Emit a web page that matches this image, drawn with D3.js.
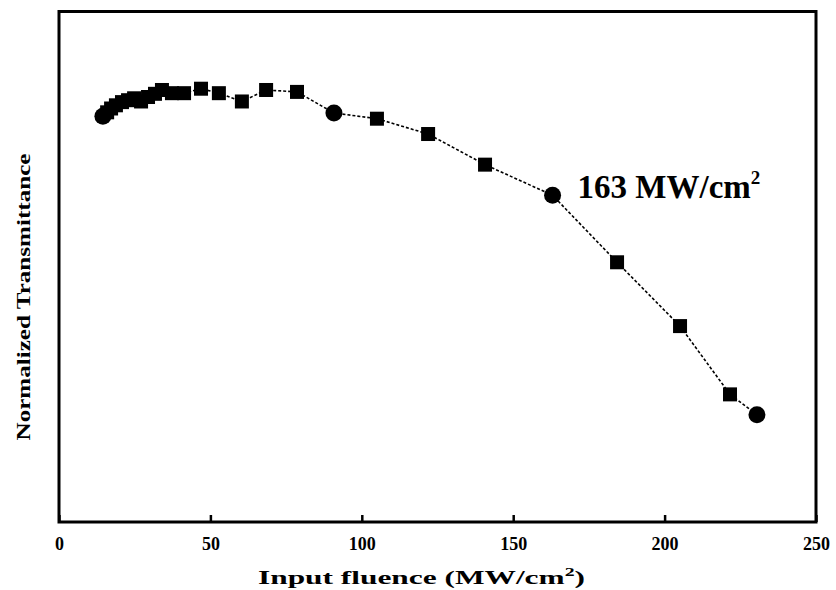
<!DOCTYPE html>
<html>
<head>
<meta charset="utf-8">
<script src="https://cdn.jsdelivr.net/npm/d3@7"></script>
<style>
  body { margin: 0; background: #fff; }
  text { font-family: "Liberation Serif", "Times New Roman", serif; font-weight: bold; fill: #000; }
</style>
</head>
<body>
<div id="chart"></div>
<script>
// input fluence (MW/cm^2)
var fluence = [14.5, 15.9, 17.2, 18.8, 20.8, 22.8, 24.8, 27.1, 29.4, 31.7, 34.0, 37.3, 41.3, 46.9,
               52.8, 60.4, 68.4, 78.6, 90.8, 105.0, 121.9, 140.7, 163.0, 184.3, 205.1, 221.6, 230.5];
// normalized transmittance
var transmittance = [0.936, 0.942, 0.948, 0.953, 0.958, 0.961, 0.964, 0.959, 0.966, 0.971, 0.977, 0.972, 0.972, 0.979,
                     0.972, 0.959, 0.977, 0.974, 0.941, 0.932, 0.908, 0.860, 0.812, 0.707, 0.607, 0.500, 0.468];
// points drawn as circles (the rest are squares)
var circlePoints = [0, 18, 22, 26];
var xTicks = [0, 50, 100, 150, 200, 250];

var svgWidth = 836;
var svgHeight = 590;

var margin = {
    top: 11.5,
    right: 20,
    bottom: 68,
    left: 59
};

var width = svgWidth - margin.left - margin.right;
var height = svgHeight - margin.top - margin.bottom;

var svg = d3.select("#chart")
    .append("svg")
    .attr("width", svgWidth)
    .attr("height", svgHeight);

var chartGroup = svg.append("g")
    .attr("transform", `translate(${margin.left}, ${margin.top})`);

var data = fluence.map(function(f, i) {
    return { x: f, y: transmittance[i], circle: circlePoints.indexOf(i) >= 0 };
});

var xLinearScale = d3.scaleLinear()
    .domain([0, 250])
    .range([0, width]);

var yLinearScale = d3.scaleLinear()
    .domain([0.3, 1.1])
    .range([height, 0]);

// dotted connecting line
var line = d3.line()
    .x(d => xLinearScale(d.x))
    .y(d => yLinearScale(d.y));

chartGroup.append("path")
    .datum(data)
    .attr("d", line)
    .attr("fill", "none")
    .attr("stroke", "#000")
    .attr("stroke-width", 1.6)
    .attr("stroke-dasharray", "3,2");

// markers
chartGroup.selectAll("rect.pt")
    .data(data.filter(d => !d.circle))
    .enter()
    .append("rect")
    .attr("class", "pt")
    .attr("x", d => xLinearScale(d.x) - 7)
    .attr("y", d => yLinearScale(d.y) - 7)
    .attr("width", 14)
    .attr("height", 14)
    .attr("fill", "#000");

chartGroup.selectAll("circle.pt")
    .data(data.filter(d => d.circle))
    .enter()
    .append("circle")
    .attr("class", "pt")
    .attr("cx", d => xLinearScale(d.x))
    .attr("cy", d => yLinearScale(d.y))
    .attr("r", 8.5)
    .attr("fill", "#000");

// bottom axis, ticks pointing inward
var bottomAxis = d3.axisBottom(xLinearScale)
    .tickValues(xTicks)
    .tickSizeInner(-7)
    .tickSizeOuter(0)
    .tickPadding(15);

var xAxis = chartGroup.append("g")
    .attr("transform", `translate(0, ${height})`)
    .call(bottomAxis);

xAxis.select(".domain").remove();
xAxis.selectAll(".tick line").attr("stroke", "#000").attr("stroke-width", 2.5);
xAxis.selectAll(".tick text")
    .attr("font-size", "18px")
    .style("font-family", "'Liberation Serif', serif")
    .style("font-weight", "bold");

// frame
chartGroup.append("rect")
    .attr("x", 0)
    .attr("y", 0)
    .attr("width", width)
    .attr("height", height)
    .attr("fill", "none")
    .attr("stroke", "#000")
    .attr("stroke-width", 3);

// annotation
var note = chartGroup.append("text")
    .attr("x", xLinearScale(163) + 25)
    .attr("y", yLinearScale(0.812) + 3)
    .attr("font-size", "33px");
note.append("tspan").text("163 MW/cm");
note.append("tspan").attr("font-size", "19px").attr("dy", "-14").text("2");

// axis titles
var xTitle = svg.append("text")
    .attr("x", 258)
    .attr("y", 584)
    .attr("font-size", "19px")
    .attr("textLength", 327)
    .attr("lengthAdjust", "spacingAndGlyphs");
xTitle.append("tspan").text("Input fluence (MW/cm");
xTitle.append("tspan").attr("font-size", "12px").attr("dy", "-8").text("2");
xTitle.append("tspan").attr("dy", "8").text(")");

svg.append("text")
    .attr("transform", "translate(30, 297) rotate(-90)")
    .attr("text-anchor", "middle")
    .attr("font-size", "19px")
    .attr("textLength", 287)
    .attr("lengthAdjust", "spacingAndGlyphs")
    .text("Normalized Transmittance");
</script>
</body>
</html>
